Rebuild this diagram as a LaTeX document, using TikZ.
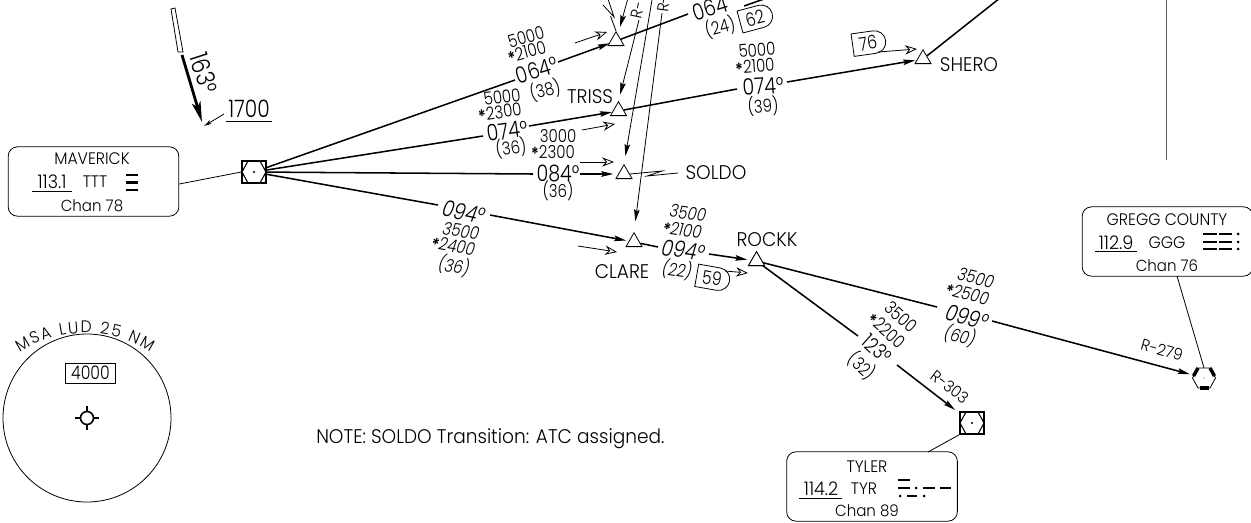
\documentclass[tikz,border=0pt]{standalone}
\usepackage{fontspec}
\setmainfont{Poppins}[UprightFont=* Light,ItalicFont=* Light Italic,BoldFont=* SemiBold,FakeStretch=0.94]
\newfontfamily\numf{Poppins}[UprightFont=* Light,ItalicFont=* Light Italic,BoldFont=* SemiBold,FakeStretch=0.84]
\usetikzlibrary{arrows.meta,shapes.geometric,shapes.misc,decorations.text}
\newcommand{\st}{\raisebox{-0.25ex}{\textbf{*}}}
\tikzset{
 x=0.75pt,y=-0.75pt,
 leg/.style={line width=1.15pt},
 thin leg/.style={line width=0.6pt},
 solid tip/.style={-{Stealth[length=9pt,width=4.2pt,inset=1.5pt]}},
 thin tip/.style={-{Stealth[length=9pt,width=4.2pt,inset=1.5pt]},line width=0.6pt},
 open tip/.style={-{Stealth[open,length=9pt,width=7pt,inset=3pt,line width=0.6pt]},line width=0.6pt},
 fix/.style={draw,regular polygon,regular polygon sides=3,minimum size=13.9pt,inner sep=0pt,line width=0.6pt},
 name lbl/.style={inner sep=0pt,font=\fontsize{14.8}{16}\selectfont},
 alt/.style={inner sep=0pt,font=\numf\fontsize{13.4}{14}\selectfont},
 crs/.style={inner sep=0pt,font=\numf\fontsize{17}{18}\selectfont},
 ita/.style={inner sep=0pt,font=\numf\fontsize{13.4}{14}\selectfont\itshape},
 itc/.style={inner sep=0pt,font=\numf\fontsize{17}{18}\selectfont\itshape},
 box lbl/.style={inner sep=0pt,font=\fontsize{12.5}{14}\selectfont},
 chan lbl/.style={inner sep=0pt,font=\fontsize{12}{14}\selectfont},
 freq lbl/.style={inner sep=0pt,font=\fontsize{14}{15}\selectfont},
 radial/.style={inner sep=0pt,font=\fontsize{12}{13}\selectfont},
 navbox/.style={draw,rounded corners=7pt,line width=0.6pt,inner sep=0pt,fill=white},
 vorbox/.style={draw,minimum width=17.5pt,minimum height=16pt,inner sep=0pt,line width=1.6pt,fill=white},
 dist/.style={draw,rounded rectangle,rounded rectangle west arc=none,line width=0.6pt,inner sep=0pt,minimum width=25pt,minimum height=17pt,font=\numf\fontsize{14}{15}\selectfont},
 morse/.style={fill=black},
}
\newcommand{\vorsym}[1]{\begin{scope}[shift={(#1.center)}]
 \draw[line width=0.8pt] (-12,0)--(-6,-11)--(6,-11)--(12,0)--(6,11)--(-6,11)--cycle;
 \fill (0,0) circle (1.1);
 \end{scope}}
\newcommand{\mbar}[3]{\fill[morse] (#1,#3-1.4) rectangle (#2,#3+1.4);}
\newcommand{\dotm}[2]{\fill[morse] (#1,#2) circle (1.5);}
\begin{document}
\begin{tikzpicture}
\useasboundingbox (0,0) rectangle (1251,522);
\clip (0,0) rectangle (1251,522);
\fill[white] (0,0) rectangle (1251,522);

% fixes and navaids
\node[fix] (top) at (616,41) {};
\node[fix] (triss) at (618.5,111) {};
\node[fix] (soldo) at (624,174) {};
\node[fix] (clare) at (634,242) {};
\node[fix] (rockk) at (756.5,261) {};
\node[fix] (shero) at (923,59) {};
\node[vorbox] (hub) at (254,172) {};
\node[vorbox] (tyr) at (972,423) {};
\node[regular polygon,regular polygon sides=6,minimum size=17pt,inner sep=0pt] (ggg) at (1204,378) {};

% break points
\coordinate (a1) at (515,80); \coordinate (a2) at (558,62);
\coordinate (a3) at (688,14);
\coordinate (b1) at (483,136); \coordinate (b2) at (529,126);
\coordinate (b3) at (737,89); \coordinate (b4) at (787,82);
\coordinate (c1) at (533,174); \coordinate (c2) at (580,174);
\coordinate (d1) at (438,205); \coordinate (d2) at (490,215);
\coordinate (d3) at (658,247); \coordinate (d4) at (709,254);
\coordinate (e1) at (937,307); \coordinate (e2) at (992,321);
\coordinate (f1) at (858,336); \coordinate (f2) at (897,365);

% heavy legs
\draw[leg] (hub.center)--(a1);
\draw[leg,solid tip,shorten >=5pt] (a2)--(top.center);
\draw[leg] (top)--(a3);
\draw[leg] (hub.center)--(b1);
\draw[leg,solid tip,shorten >=5pt] (b2)--(triss.center);
\draw[leg] (triss)--(b3);
\draw[leg,solid tip,shorten >=6pt] (b4)--(shero.center);
\draw[leg] (hub.center)--(c1);
\draw[leg,solid tip,shorten >=8pt] (c2)--(soldo.center);
\draw[leg] (hub.center)--(d1);
\draw[leg,solid tip,shorten >=6pt] (d2)--(clare.center);
\draw[leg] (clare)--(d3);
\draw[leg,solid tip,shorten >=7pt] (d4)--(rockk.center);
\draw[leg] (rockk.center)--(e1);
\draw[leg,solid tip,shorten >=11pt] (e2)--(ggg.center);
\draw[leg] (rockk.center)--(f1);
\draw[leg,solid tip,shorten >=16pt] (f2)--(tyr.center);

\node[fix,fill=white] at (rockk) {};
\node[vorbox] at (hub) {}; \vorsym{hub}
\node[vorbox] at (tyr) {}; \vorsym{tyr}

% Gregg VOR symbol
\begin{scope}[shift={(ggg.center)}]
 \draw[line width=0.6pt,fill=white] (-11.5,0)--(-6,-10)--(6,-10)--(11.5,0)--(6,10)--(-6,10)--cycle;
 \draw[line width=2.6pt] (-10.5,-2)--(-6,-10);
 \draw[line width=2.6pt] (10.5,-2)--(6,-10);
 \draw[line width=3pt] (-4.5,10)--(4.5,10);
 \fill (0,0) circle (0.5);
\end{scope}

% radial lines
\coordinate (r1) at (628,-2); \coordinate (r2) at (639,20);
\coordinate (r3) at (652,0); \coordinate (r4) at (662,13);
\draw[thin tip] (r1)--(620,27);
\draw[thin tip,shorten >=5pt] (r2)--(triss.north);
\draw[thin tip,shorten >=6pt] (r3)--(soldo.north);
\draw[thin tip,shorten >=8pt] (r4)--(clare.north);
\node[radial,rotate=78] at (638,10) {R-};
\node[radial,rotate=83] at (664,4) {R-};

% lightning marks
\draw[thin leg] (top.north)--(610.5,16);
\draw[thin leg] (603,5)--(614,17)--(608,-1);
\node[name lbl] (soldon) at (716,173) {SOLDO};
\draw[thin leg] (soldo.east)--(662,171)--(647,176)--(678,173);

% open arrows
\draw[open tip] (575,43)--(607,32);
\draw[open tip] (582,130)--(615,124);
\draw[open tip] (580,162)--(614,162);
\draw[open tip] (578,246)--(617,252);
\node[dist,rotate=-10] (d59) at (712,278) {59};
\draw[open tip] (725,271)--(748,273);
\node[dist,rotate=8] (d76) at (868,43) {76};
\draw[open tip] (878,52)--(917,49);
\node[dist,rotate=15] (d62) at (755,18) {62};

% TRANSITION LABELS
\node[alt,rotate=15] at (526,37) {5000};
\node[alt,rotate=15] at (527,53) {\st 2100};
\node[crs,rotate=17] at (537,70) {064°};
\node[alt,rotate=15] at (545,90) {(38)};

\node[alt,rotate=8] at (502,97) {5000};
\node[alt,rotate=8] at (500,113) {\st 2300};
\node[crs,rotate=8] at (507,131) {074°};
\node[alt,rotate=8] at (511,148) {(36)};

\node[alt] at (558,136) {3000};
\node[alt] at (553,153) {\st 2300};
\node[crs] at (558,173) {084°};
\node[alt] at (558,191) {(36)};

\node[alt,rotate=4] at (757,50) {5000};
\node[alt,rotate=4] at (755,67) {\st 2100};
\node[crs,rotate=4] at (763,86) {074°};
\node[alt,rotate=4] at (763,106) {(39)};

\node[crs,rotate=17] at (710,8) {064};
\node[alt,rotate=15] at (720,27) {(24)};

\node[itc,rotate=-12] at (464,212) {094°};
\node[ita,rotate=-10] at (461,231) {3500};
\node[ita,rotate=-10] at (453,247) {\st 2400};
\node[ita,rotate=-10] at (454,266) {(36)};

\node[ita,rotate=-8] at (688,213) {3500};
\node[ita,rotate=-8] at (682,231) {\st 2100};
\node[itc,rotate=-8] at (683,250) {094°};
\node[ita,rotate=-8] at (677,270) {(22)};

\node[ita,rotate=-15] at (976,278) {3500};
\node[ita,rotate=-15] at (967,295) {\st 2500};
\node[itc,rotate=-15] at (967,317) {099°};
\node[ita,rotate=-15] at (960,336) {(60)};

\node[alt,rotate=-42] at (901,317) {3500};
\node[alt,rotate=-42] at (886,331) {\st 2200};
\node[crs,rotate=-42,font=\numf\fontsize{15.5}{16}\selectfont] at (877,349) {123°};
\node[alt,rotate=-42] at (862,366) {(32)};

\node[radial,rotate=-37] at (950,387) {R-303};
\node[radial,rotate=-16] at (1162,350) {R-279};

% names
\node[name lbl] at (590,97) {TRISS};
\node[name lbl] at (969,65) {SHERO};
\node[name lbl] at (622,272) {CLARE};
\node[name lbl] at (767,240) {ROCKK};
\node[name lbl,anchor=west] at (316,439) {NOTE: SOLDO Transition: ATC assigned.};

% entry bearing
\draw[line width=0.6pt] (171,9)--(175,8)--(183,52)--(178,52)--cycle;
\coordinate (e0) at (182,55); \coordinate (e3) at (202,122);
\draw[line width=2.1pt,-{Stealth[length=15pt,width=6.5pt,inset=3pt]}] (e0)--(e3);
\node[crs,rotate=-72,font=\numf\fontsize{19}{20}\selectfont] at (204,73) {163°};
\node[inner sep=0pt,font=\numf\fontsize{18}{19}\selectfont] (h17) at (249,109) {1700};
\draw[line width=0.7pt] (226,121)--(272,121);
\draw[line width=0.6pt,-{Stealth[length=6pt,width=3pt]}] (224,114)--(204,126);

% Maverick box
\node[navbox,minimum width=128pt,minimum height=52pt] (mavbox) at (93.5,181.5) {};
\draw[thin leg] (mavbox.east |- 0,184)--(hub.west);
\node[box lbl] at (92,159) {MAVERICK};
\node[freq lbl] at (52,182) {113.1};
\draw[line width=0.6pt] (32,191)--(72,191);
\node[box lbl] at (95,182) {TTT};
\mbar{126}{138}{175} \mbar{126}{138}{182.5} \mbar{126}{138}{190}
\node[chan lbl] at (92,206) {Chan 78};

% Tyler box
\node[navbox,minimum width=128pt,minimum height=52pt] (tyrbox) at (872,486.5) {};
\draw[thin leg] (928,452)--(tyr.south west);
\node[box lbl] at (867,467) {TYLER};
\node[freq lbl] at (821,489) {114.2};
\draw[line width=0.6pt] (799,498)--(842,498);
\node[box lbl] at (864,489) {TYR};
\mbar{898}{910}{480} \mbar{898}{910}{488} \dotm{916}{488} \mbar{923}{935}{488} \mbar{940}{951}{488}
\dotm{900}{496} \mbar{907}{917}{496} \dotm{924}{496}
\node[chan lbl] at (867,511) {Chan 89};

% Gregg box
\node[navbox,minimum width=128pt,minimum height=52pt] (gggbox) at (1167.5,241.5) {};
\draw[thin leg] (1177,276)--(ggg.north);
\node[box lbl] at (1167,220) {GREGG COUNTY};
\node[freq lbl] at (1116,243) {112.9};
\draw[line width=0.6pt] (1095,251)--(1137,251);
\node[box lbl] at (1167,243) {GGG};
\mbar{1203}{1217}{234} \mbar{1203}{1217}{242} \mbar{1203}{1217}{249}
\mbar{1219}{1232}{234} \mbar{1219}{1232}{242} \mbar{1219}{1232}{249}
\dotm{1238}{234} \dotm{1238}{242} \dotm{1238}{249}
\node[chan lbl] at (1167,266) {Chan 76};

% top right fragments
\coordinate (t1) at (1000,-2);
\draw[leg] (t1)--(shero);
\coordinate (v1) at (1166,-2); \coordinate (v2) at (1166,160);
\draw[line width=0.7pt,black!65] (v1)--(v2);
\coordinate (w1) at (744,6); \coordinate (w2) at (764,-1);
\draw[leg] (w1)--(w2);

% MSA
\draw[line width=0.6pt] (87,418) circle (84);
\node[draw,line width=0.6pt,minimum width=38pt,minimum height=15pt,inner sep=0pt,font=\numf\fontsize{14}{15}\selectfont] (msa) at (90.5,373) {4000};
\draw[line width=1.2pt] (87,418) circle (6.5);
\draw[line width=1.2pt] (87,406)--(87,411.5) (87,424.5)--(87,430) (75,418)--(80.5,418) (93.5,418)--(99,418);
\path[postaction={decorate,decoration={text along path,text align=fit to path,text={|\fontsize{12.5}{13}\selectfont|MSA LUD 25 NM}}}]
 (85,453) ++(-123:120) arc[start angle=-123,end angle=-57,radius=120];
\end{tikzpicture}
\end{document}
